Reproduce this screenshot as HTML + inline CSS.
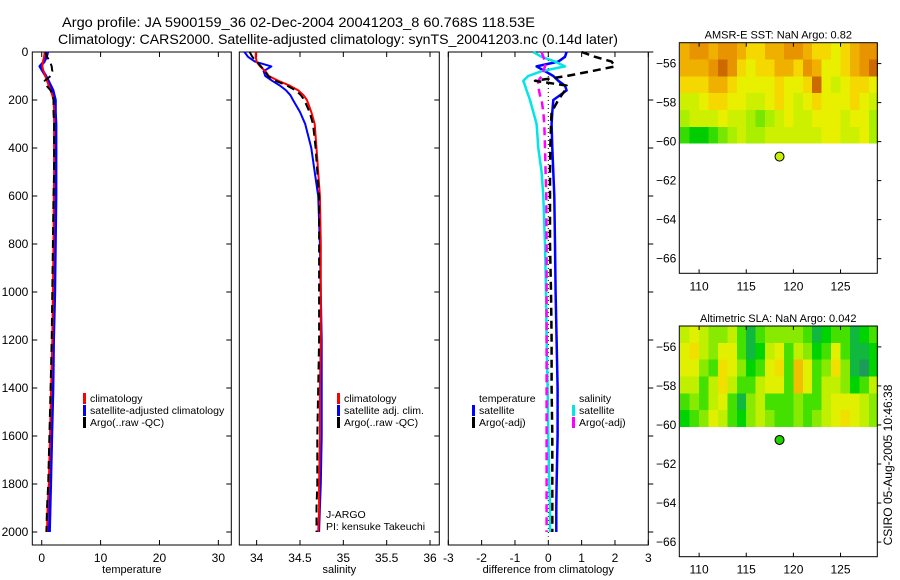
<!DOCTYPE html>
<html><head><meta charset="utf-8"><style>
html,body{margin:0;padding:0;background:#fff;}
svg{display:block;font-family:"Liberation Sans",sans-serif;}
</style></head><body>
<svg id="fig" width="900" height="580" xmlns="http://www.w3.org/2000/svg">
<rect width="900" height="580" fill="#fff"/>
<text x="62" y="27" font-size="14" textLength="473" lengthAdjust="spacingAndGlyphs">Argo profile: JA 5900159_36 02-Dec-2004 20041203_8 60.768S 118.53E</text>
<text x="58" y="44" font-size="14" textLength="560" lengthAdjust="spacingAndGlyphs">Climatology: CARS2000. Satellite-adjusted climatology: synTS_20041203.nc (0.14d later)</text>
<text transform="translate(892,465) rotate(-90)" font-size="12" text-anchor="middle">CSIRO 05-Aug-2005 10:46:38</text>
</svg>
<script>
// ---- data ----
const depth = [0,20,40,60,80,100,120,140,160,180,200,250,300,400,500,600,800,1000,1200,1400,1600,1800,1900,2000];
const tempClim = [0.5,0.4,0.2,0.1,0.3,0.6,0.9,1.2,1.5,1.8,2.0,2.1,2.1,2.1,2.1,2.05,2.0,1.9,1.8,1.6,1.4,1.2,1.0,0.9];
const tempSat  = [1.0,0.8,0.4,-0.3,0.2,0.7,1.1,1.5,1.9,2.1,2.3,2.3,2.4,2.4,2.4,2.4,2.3,2.2,2.0,1.9,1.7,1.5,1.4,1.3];
const tempArgo = [0.6,0.9,1.4,1.7,1.8,1.5,0.5,0.8,1.5,1.9,2.0,2.0,2.1,2.1,2.1,2.0,1.9,1.8,1.7,1.5,1.3,1.1,0.9,0.8];
const salClim = [33.99,33.99,34.0,34.04,34.1,34.14,34.25,34.38,34.48,34.54,34.58,34.63,34.67,34.69,34.71,34.73,34.74,34.74,34.74,34.73,34.73,34.72,34.72,34.71];
const salSat  = [33.86,33.9,33.98,34.17,34.08,34.1,34.18,34.27,34.34,34.39,34.42,34.5,34.56,34.63,34.67,34.71,34.73,34.74,34.75,34.75,34.75,34.74,34.73,34.72];
const salArgo = [33.92,33.95,34.0,34.05,34.1,34.13,34.22,34.35,34.45,34.51,34.55,34.61,34.65,34.68,34.7,34.72,34.72,34.72,34.72,34.71,34.7,34.7,34.69,34.69];
const dTempSat  = [0.55,0.5,0.3,-0.35,-0.1,0.15,0.3,0.5,0.55,0.35,0.15,0.12,0.1,0.12,0.15,0.18,0.2,0.22,0.25,0.28,0.28,0.25,0.24,0.24];
const dTempArgo = [1.0,1.4,1.9,2.0,1.3,0.55,-0.4,0.55,0.5,0.4,0.3,0.1,0.08,0.06,0.05,0.05,0.05,0.08,0.1,0.1,0.12,0.12,0.12,0.12];
const dSalSat   = [-0.45,-0.2,0.2,0.5,-0.2,-0.6,-0.75,-0.7,-0.65,-0.6,-0.55,-0.45,-0.35,-0.3,-0.2,-0.15,-0.1,-0.07,-0.05,-0.02,0.0,0.03,0.05,0.05];
const dSalArgo  = [-0.2,-0.15,-0.1,-0.1,-0.15,-0.2,-0.3,-0.3,-0.28,-0.25,-0.2,-0.15,-0.12,-0.1,-0.08,-0.06,-0.05,-0.05,-0.05,-0.05,-0.05,-0.05,-0.05,-0.05];
const depthTicks = [0,200,400,600,800,1000,1200,1400,1600,1800,2000];
const tempTicks = [0,10,20,30];
const salTicks = [34,34.5,35,35.5,36];
const diffTicks = [-3,-2,-1,0,1,2,3];
const lonTicks = [110,115,120,125];
const latTicks = [-56,-58,-60,-62,-64,-66];
const argoLon = 118.53, argoLat = -60.768;
const mapLons = [108,109,110,111,112,113,114,115,116,117,118,119,120,121,122,123,124,125,126,127,128];
const mapLatTop = -54.93, mapLatBottom = -60.1;
const sstGrid = [
[7,8,8,7,8,8,7,6,6,7,7,8,8,7,6,6,5,6,7,8,8],
[7,7,7,8,9,8,6,5,6,6,7,7,6,8,7,5,5,6,7,8,9],
[6,6,6,7,7,6,5,5,5,5,6,5,5,6,9,5,4,5,6,6,5],
[4,4,5,6,6,5,5,4,4,5,6,5,4,5,6,5,5,5,6,5,4],
[3,4,4,4,5,4,4,3,2,3,4,5,4,4,5,5,5,4,5,5,3],
[1,0,0,1,2,3,4,3,3,4,4,4,4,4,4,5,5,4,4,5,3]];
const slaGrid = [
[5,6,5,4,4,5,3,1,3,4,4,4,4,3,1,2,3,3,1,2,3],
[6,7,5,4,6,6,3,1,2,5,6,3,5,4,2,3,6,3,1,1,2],
[6,6,4,3,7,6,4,2,3,6,7,3,8,6,3,4,7,4,1,0,2],
[5,5,3,5,7,5,3,3,5,6,6,3,8,6,3,5,5,4,2,3,5],
[3,4,3,5,6,3,1,4,5,3,3,3,4,3,3,5,6,6,6,5,4],
[2,3,4,6,5,3,2,4,5,4,3,3,4,3,4,5,6,7,6,5,4]];

const NS='http://www.w3.org/2000/svg';
const svg=document.getElementById('fig');
function mk(tag,attrs,parent){const e=document.createElementNS(NS,tag);for(const k in attrs)e.setAttribute(k,attrs[k]);(parent||svg).appendChild(e);return e;}
function lin(d0,d1,r0,r1){return v=>r0+(v-d0)*(r1-r0)/(d1-d0);}

const yD = lin(0,2000,52,532);
const panels = [
 {x0:32.3,x1:231.3,xs:lin(-1.6,32.2,32.3,231.3),ticks:tempTicks,label:'temperature',name:'temperature-panel',ylab:true},
 {x0:239.3,x1:439.3,xs:lin(33.8,36.107,239.3,439.3),ticks:salTicks,label:'salinity',name:'salinity-panel'},
 {x0:448.3,x1:648.3,xs:lin(-3,3,448.3,648.3),ticks:diffTicks,label:'difference from climatology',name:'difference-panel',rticks:true}
];
const yTop=52, yBot=545;
panels.forEach(p=>{
  const g=mk('g',{});
  
  
  const r=mk('rect',{x:p.x0,y:yTop,width:p.x1-p.x0,height:yBot-yTop,fill:'none',stroke:'#000','stroke-width':1},g);
  
  
  p.ticks.forEach(t=>{
    const x=p.xs(t);
    mk('line',{x1:x,x2:x,y1:yTop,y2:yTop+5,stroke:'#000'},g);
    mk('line',{x1:x,x2:x,y1:yBot,y2:yBot-5,stroke:'#000'},g);
    const tx=mk('text',{x:x,y:yBot+17,'font-size':12,'text-anchor':'middle'},g);
    tx.textContent=String(t);
    
    
  });
  depthTicks.forEach(d=>{
    const y=yD(d);
    if(p.rticks){mk('line',{x1:p.x1,x2:p.x1+5,y1:y,y2:y,stroke:'#000'},g);}
    else{mk('line',{x1:p.x1,x2:p.x1-5,y1:y,y2:y,stroke:'#000'},g);}
    if(p.ylab){
      mk('line',{x1:p.x0,x2:p.x0+5,y1:y,y2:y,stroke:'#000'},g);
      const tx=mk('text',{x:p.x0-4,y:y+4,'font-size':12,'text-anchor':'end'},g);
      tx.textContent=String(d);
      
      
    }
  });
  const xl=mk('text',{x:(p.x0+p.x1)/2,y:yBot+28,'font-size':11,'text-anchor':'middle'},g);
  xl.textContent=p.label;
  
  
});
function prof(p,vals,color,w,dash,name){
  const pts=vals.map((v,i)=>p.xs(v).toFixed(1)+','+yD(depth[i]).toFixed(1)).join(' ');
  const e=mk('polyline',{points:pts,fill:'none',stroke:color,'stroke-width':w,'stroke-dasharray':dash||'none','stroke-linejoin':'round'});
  
  
}
const P=panels;
prof(P[0],tempSat,'#0000ff',3,null,'temp-satellite-line');
prof(P[0],tempClim,'#ff0000',2,null,'temp-climatology-line');
prof(P[0],tempArgo,'#000',2,'8,5','temp-argo-line');
prof(P[1],salSat,'#0000ff',2,null,'sal-satellite-line');
prof(P[1],salClim,'#ff0000',2,null,'sal-climatology-line');
prof(P[1],salArgo,'#000',2,'8,5','sal-argo-line');
const zl=mk('line',{x1:P[2].xs(0),x2:P[2].xs(0),y1:yD(0),y2:yD(2020),stroke:'#000','stroke-dasharray':'1,3'});


prof(P[2],dTempSat,'#0000ff',2.5,null,'diff-temp-satellite-line');
prof(P[2],dSalSat,'#00e5e5',2.5,null,'diff-sal-satellite-line');
prof(P[2],dSalArgo,'#ff00ff',2.5,'8,5','diff-sal-argo-line');
prof(P[2],dTempArgo,'#000',2.5,'8,5','diff-temp-argo-line');

function legend(x,y,items,name){
  const g=mk('g',{});
  
  
  items.forEach((it,i)=>{
    const yy=y+i*12;
    if(it[0])mk('rect',{x:x,y:yy-7,width:3,height:11,fill:it[0]},g);
    const t=mk('text',{x:x+7,y:yy+2,'font-size':10.5},g);
    t.textContent=it[1];
  });
}
legend(83,400,[['#ff0000','climatology'],['#0000ff','satellite-adjusted climatology'],['#000','Argo(..raw -QC)']],'temperature-legend');
legend(337,400,[['#ff0000','climatology'],['#0000ff','satellite adj. clim.'],['#000','Argo(..raw -QC)']],'salinity-legend');
legend(472,400,[[null,'temperature'],['#0000ff','satellite'],['#000','Argo(-adj)']],'diff-temperature-legend');
legend(572,400,[[null,'salinity'],['#00e5e5','satellite'],['#ff00ff','Argo(-adj)']],'diff-salinity-legend');
const pi1=mk('text',{x:326,y:518,'font-size':10.5});pi1.textContent='J-ARGO';


const pi2=mk('text',{x:326,y:530,'font-size':10.5});pi2.textContent='PI: kensuke Takeuchi';



// ---- maps ----
function col(v,pal){const i=Math.max(0,Math.min(pal.length-1,Math.round(v)));return pal[i];}
const sstPal=['#00cc00','#33dd00','#77e600','#aaee00','#ccf000','#e8f000','#f5d800','#f0b000','#e89400','#cc6a00'];
const slaPal=['#1e9a5a','#10b840','#00d400','#44e000','#88ea00','#c0f000','#e0f000','#f0e000','#f0c000','#ee9c00'];
function map(top,bot,title,grid,pal,dotColor,name){
  const x0=679.3,x1=877.3;
  const xs=lin(107.9,128.9,x0,x1);
  const ys=lin(-54.93,-66.75,top,bot);
  const g=mk('g',{});
  
  
  const nR=grid.length, dLat=(mapLatTop-mapLatBottom)/nR;
  grid.forEach((row,r)=>row.forEach((v,c)=>{
    const lonA=mapLons[c];
    const xa=Math.max(x0,xs(lonA)), xb=Math.min(x1,xs(lonA+1));
    const ya=ys(mapLatTop-r*dLat), yb=ys(mapLatTop-(r+1)*dLat);
    const cell=mk('rect',{x:xa,y:ya,width:xb-xa+0.6,height:yb-ya+(r<nR-1?0.6:0),fill:col(v,pal),'shape-rendering':'crispEdges'},g);
    
    
  }));
  mk('rect',{x:x0,y:top,width:x1-x0,height:bot-top,fill:'none',stroke:'#000'},g);
  lonTicks.forEach(t=>{const x=xs(t);
    mk('line',{x1:x,x2:x,y1:top,y2:top+4,stroke:'#000'},g);
    mk('line',{x1:x,x2:x,y1:bot,y2:bot-4,stroke:'#000'},g);
    const tx=mk('text',{x:x,y:bot+17,'font-size':12,'text-anchor':'middle'},g);tx.textContent=t;
    
    
  });
  latTicks.forEach(t=>{const y=ys(t);
    mk('line',{x1:x1,x2:x1+4,y1:y,y2:y,stroke:'#000'},g);
    const tx=mk('text',{x:x0-3,y:y+4,'font-size':12,'text-anchor':'end'},g);tx.textContent=String(t).replace('-','\u2212');
    
    
  });
  const tt=mk('text',{x:(x0+x1)/2,y:top-4,'font-size':11,'text-anchor':'middle'},g);tt.textContent=title;
  
  
  const d=mk('circle',{cx:xs(argoLon),cy:ys(argoLat),r:4.5,fill:dotColor,stroke:'#000','stroke-width':1},g);
  
  
}
map(42.7,273.3,'AMSR-E SST: NaN Argo: 0.82',sstGrid,sstPal,'#c8f000','sst-map');
map(326,556.7,'Altimetric SLA: NaN Argo: 0.042',slaGrid,slaPal,'#22d000','sla-map');
</script>
</body></html>
